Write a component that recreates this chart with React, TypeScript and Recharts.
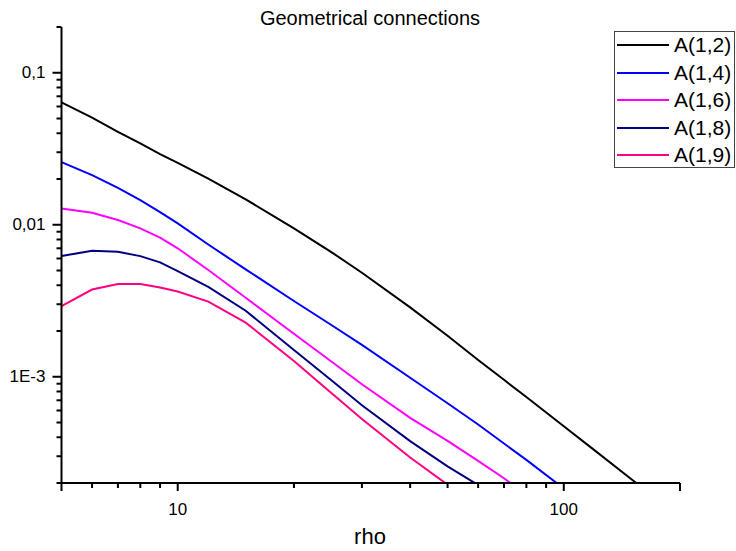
import React from 'react';
import { LineChart, Line, XAxis, YAxis } from 'recharts';

// rho values where the curves are sampled
const rho = [5, 6, 7, 8, 9, 10, 12, 15, 20, 25, 30, 40, 50, 60, 70, 80, 100, 120, 150, 200];

const a12 = [0.0638, 0.0506, 0.0409, 0.0343, 0.0292, 0.0255, 0.0201, 0.0147, 0.00948, 0.00661, 0.00483, 0.00286, 0.00186, 0.00129, 0.000955, 0.000735, 0.000472, 0.000329, 0.000211, 0.000119];
const a14 = [0.0258, 0.0212, 0.0175, 0.0145, 0.0121, 0.0102, 0.00741, 0.00509, 0.00315, 0.00219, 0.00162, 0.000985, 0.000669, 0.000485, 0.000364, 0.000284, 0.000184, null, null, null];
const a16 = [0.0128, 0.012, 0.01074, 0.00947, 0.00824, 0.007, 0.00504, 0.00331, 0.00192, 0.00126, 0.000893, 0.000537, 0.000379, 0.00028, 0.000215, 0.000167, null, null, null, null];
const a18 = [0.00622, 0.00675, 0.00664, 0.00622, 0.00566, 0.00495, 0.0039, 0.00272, 0.0015, 0.000948, 0.00065, 0.000377, 0.000257, 0.000194, 0.000143, null, null, null, null, null];
const a19 = [0.00292, 0.00375, 0.00407, 0.00407, 0.00386, 0.00364, 0.00312, 0.00227, 0.00127, 0.000782, 0.000527, 0.000294, 0.000195, 0.000138, null, null, null, null, null, null];

const seriesNames = ['A(1,2)', 'A(1,4)', 'A(1,6)', 'A(1,8)', 'A(1,9)'];
const seriesKeys = ['a12', 'a14', 'a16', 'a18', 'a19'];
const seriesColors = ['#000000', '#0000ff', '#ff00ff', '#000080', '#ff0080'];

const xTicks = [5, 6, 7, 8, 9, 10, 20, 30, 40, 50, 60, 70, 80, 90, 100, 200];
const xMajor = [10, 100];
const xMajorLabels = ['10', '100'];

const yTicks = [
  0.0002, 0.0003, 0.0004, 0.0005, 0.0006, 0.0007, 0.0008, 0.0009,
  0.001, 0.002, 0.003, 0.004, 0.005, 0.006, 0.007, 0.008, 0.009,
  0.01, 0.02, 0.03, 0.04, 0.05, 0.06, 0.07, 0.08, 0.09, 0.1, 0.2
];
const yMajor = [0.1, 0.01, 0.001];
const yMajorLabels = ['0,1', '0,01', '1E-3'];

const data = rho.map((r, i) => ({
  rho: r,
  a12: a12[i],
  a14: a14[i],
  a16: a16[i],
  a18: a18[i],
  a19: a19[i]
}));

const W = 736;
const H = 551;
const LEFT = 61.5;
const TOP = 27;
const RIGHT = 56;
const BOTTOM = 483;
const FONT = '"Liberation Sans", Arial, sans-serif';

const isEnd = (v: number, lo: number, hi: number) => Math.abs(v - lo) / lo < 1e-6 || Math.abs(v - hi) / hi < 1e-6;

const XTick = (props: any) => {
  const { x, payload } = props;
  const v = payload.value;
  const idx = xMajor.findIndex(m => Math.abs(m - v) / m < 1e-6);
  const len = idx >= 0 || isEnd(v, 5, 200) ? 8 : 5;
  return (
    <g>
      <line x1={x} x2={x} y1={BOTTOM} y2={BOTTOM + len} stroke="#000" strokeWidth={2} />
      {idx >= 0 && (
        <text x={x} y={BOTTOM + 26} textAnchor="middle" dominantBaseline="central" fontSize={17} fontFamily={FONT} fill="#000">
          {xMajorLabels[idx]}
        </text>
      )}
    </g>
  );
};

const YTick = (props: any) => {
  const { y, payload } = props;
  const v = payload.value;
  const idx = yMajor.findIndex(m => Math.abs(m - v) / m < 1e-6);
  const len = idx >= 0 ? 9 : 5;
  return (
    <g>
      <line x1={LEFT - len} x2={LEFT} y1={y} y2={y} stroke="#000" strokeWidth={2} />
      {idx >= 0 && (
        <text x={LEFT - 16} y={y} textAnchor="end" dominantBaseline="central" fontSize={17} fontFamily={FONT} fill="#000">
          {yMajorLabels[idx]}
        </text>
      )}
    </g>
  );
};

const App = () => (
  <div style={{ position: 'absolute', left: 0, top: 0, width: W, height: H, background: '#fff', fontFamily: FONT }}>
    <LineChart width={W} height={H} data={data} margin={{ top: TOP, right: RIGHT, bottom: 0, left: 0 }}>
      <XAxis
        dataKey="rho"
        type="number"
        scale="log"
        domain={[5, 200]}
        allowDataOverflow
        ticks={xTicks}
        interval={0}
        height={H - BOTTOM}
        tick={<XTick />}
        tickLine={false}
        axisLine={{ stroke: '#000', strokeWidth: 2 }}
      />
      <YAxis
        type="number"
        scale="log"
        domain={[0.0002, 0.2]}
        allowDataOverflow
        ticks={yTicks}
        interval={0}
        width={LEFT}
        tick={<YTick />}
        tickLine={false}
        axisLine={{ stroke: '#000', strokeWidth: 2 }}
      />
      {seriesKeys.map((k, i) => (
        <Line
          key={k}
          type="linear"
          dataKey={k}
          name={seriesNames[i]}
          stroke={seriesColors[i]}
          strokeWidth={2}
          dot={false}
          activeDot={false}
          isAnimationActive={false}
        />
      ))}
    </LineChart>
    <div style={{ position: 'absolute', left: 0, width: 740, top: 6, textAlign: 'center', fontSize: 20, lineHeight: '24px', color: '#000' }}>
      Geometrical connections
    </div>
    <div style={{ position: 'absolute', left: 0, width: 740, top: 524, textAlign: 'center', fontSize: 22, lineHeight: '26px', color: '#000' }}>
      rho
    </div>
    <div
      style={{
        position: 'absolute',
        left: 614,
        top: 31,
        width: 119,
        height: 135,
        border: '1px solid #444',
        background: '#fff'
      }}
    >
      {seriesNames.map((n, i) => (
        <div key={n} style={{ position: 'absolute', left: 0, top: 27.5 * i, height: 26, display: 'flex', alignItems: 'center' }}>
          <span style={{ display: 'inline-block', marginLeft: 2, width: 52, height: 2, background: seriesColors[i] }} />
          <span style={{ marginLeft: 5, fontSize: 21, lineHeight: '26px', color: '#000', whiteSpace: 'nowrap' }}>{n}</span>
        </div>
      ))}
    </div>
  </div>
);

export default App;
